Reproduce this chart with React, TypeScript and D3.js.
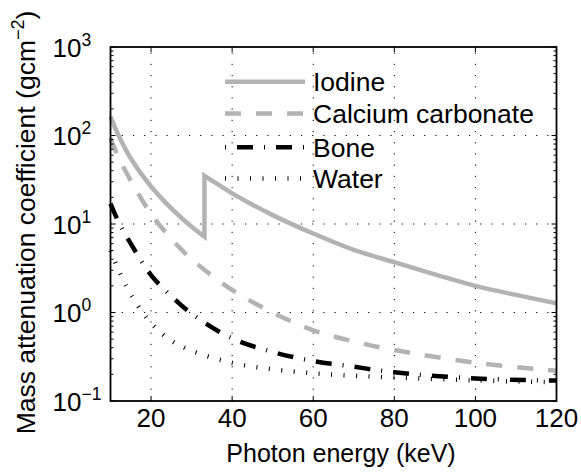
import React from "react";
import * as d3 from "d3";

// ---- data ----
const iodineEnergyLow = [10, 12, 15, 20, 25, 30, 33.17];
const iodineLow = [163, 100, 55, 26.5, 15, 9.3, 7.2];
const iodineEnergyHigh = [33.17, 35, 40, 50, 60, 70, 80, 90, 100, 110, 120];
const iodineHigh = [35, 31, 22.2, 12.6, 7.8, 5.1, 3.7, 2.7, 2.0, 1.58, 1.27];

const energies = [10, 12, 15, 20, 25, 30, 40, 50, 60, 70, 80, 100, 120];
const calciumCarbonate = [93, 56, 31, 13, 6.8, 4.0, 1.8, 1.0, 0.63, 0.47, 0.377, 0.27, 0.22];
const bone = [17, 10.5, 6.0, 2.65, 1.53, 0.97, 0.51, 0.358, 0.283, 0.244, 0.211, 0.18, 0.17];
const water = [5.0, 3.0, 1.6, 0.76, 0.48, 0.37, 0.27, 0.228, 0.206, 0.193, 0.184, 0.171, 0.163];

const xTicks = [20, 40, 60, 80, 100, 120];
const yTickExps = [-1, 0, 1, 2, 3];
const legendLabels = ["Iodine", "Calcium carbonate", "Bone", "Water"];
const xLabel = "Photon energy (keV)";
const yLabel = "Mass attenuation coefficient (gcm";

const W = 581;
const H = 472;
const M = { left: 110.5, right: 556.5, top: 47, bottom: 401 };
const FONT = "'Liberation Sans', Arial, Helvetica, sans-serif";
const GRAY = "rgb(179,179,179)";

export default function App() {
  const x = d3.scaleLinear().domain([10, 120]).range([M.left, M.right]);
  const y = d3.scaleLog().domain([0.1, 1000]).range([M.bottom, M.top]);

  const line = d3
    .line<[number, number]>()
    .x((d) => x(d[0]))
    .y((d) => y(d[1]))
    .curve(d3.curveCatmullRom.alpha(0.5));

  const zip = (xs: number[], ys: number[]) => xs.map((v, i) => [v, ys[i]] as [number, number]);

  const iodinePath =
    (line(zip(iodineEnergyLow, iodineLow)) || "") +
    (line(zip(iodineEnergyHigh, iodineHigh)) || "").replace(/^M/, "L");

  const styles = [
    { stroke: GRAY, dash: "none", width: 4.5 },
    { stroke: GRAY, dash: "16,15", width: 4.5 },
    { stroke: "black", dash: "16,11,1,11", width: 4.5 },
    { stroke: "black", dash: "1,11.5", width: 4.5 },
  ];
  const paths = [
    iodinePath,
    line(zip(energies, calciumCarbonate)) || "",
    line(zip(energies, bone)) || "",
    line(zip(energies, water)) || "",
  ];

  const minorTicks: number[] = [];
  for (let k = -1; k <= 2; k++) {
    for (let m = 2; m <= 9; m++) minorTicks.push(m * Math.pow(10, k));
  }

  const legendY = [81.7, 113.5, 147.3, 178.5];
  const legendDashOffset = [0, 0, 27, 0];

  return (
    <svg
      width={W}
      height={H}
      style={{ position: "absolute", left: 0, top: 0, background: "white" }}
      fontFamily={FONT}
    >
      <rect x={0} y={0} width={W} height={H} fill="white" />
      {/* grid */}
      <g stroke="black" strokeWidth={1} strokeDasharray="1.2,10">
        {xTicks
          .filter((t) => t < 120)
          .map((t) => (
            <line key={"gx" + t} x1={x(t)} x2={x(t)} y1={M.bottom} y2={M.top} />
          ))}
        {yTickExps
          .filter((e) => e > -1 && e < 3)
          .map((e) => (
            <line key={"gy" + e} x1={M.left} x2={M.right} y1={y(Math.pow(10, e))} y2={y(Math.pow(10, e))} />
          ))}
      </g>
      {/* curves */}
      {paths.map((p, i) => (
        <path
          key={"c" + i}
          d={p}
          fill="none"
          stroke={styles[i].stroke}
          strokeWidth={styles[i].width}
          strokeDasharray={styles[i].dash}
          strokeLinecap="butt"
          strokeLinejoin="miter"
        />
      ))}
      {/* ticks */}
      <g stroke="black" strokeWidth={1}>
        {xTicks.map((t) => (
          <g key={"xt" + t}>
            <line x1={x(t)} x2={x(t)} y1={M.bottom} y2={M.bottom - 5} />
            <line x1={x(t)} x2={x(t)} y1={M.top} y2={M.top + 5} />
          </g>
        ))}
        {yTickExps.map((e) => (
          <g key={"yt" + e}>
            <line x1={M.left} x2={M.left + 5} y1={y(Math.pow(10, e))} y2={y(Math.pow(10, e))} />
            <line x1={M.right} x2={M.right - 5} y1={y(Math.pow(10, e))} y2={y(Math.pow(10, e))} />
          </g>
        ))}
        {minorTicks.map((v, i) => (
          <g key={"ym" + i}>
            <line x1={M.left} x2={M.left + 3} y1={y(v)} y2={y(v)} />
            <line x1={M.right} x2={M.right - 3} y1={y(v)} y2={y(v)} />
          </g>
        ))}
      </g>
      {/* box */}
      <rect
        x={M.left}
        y={M.top}
        width={M.right - M.left}
        height={M.bottom - M.top}
        fill="none"
        stroke="black"
        strokeWidth={1.8}
      />
      {/* x tick labels */}
      {xTicks.map((t) => (
        <text key={"xl" + t} x={x(t)} y={427} fontSize={26} textAnchor="middle" fill="black">
          {t}
        </text>
      ))}
      {/* y tick labels */}
      {yTickExps.map((e) => (
        <text key={"yl" + e} x={52.5} y={y(Math.pow(10, e)) + 9.5} fontSize={26} fill="black">
          10
          <tspan fontSize={17.5} dy={-11}>
            {e < 0 ? "\u2212" + Math.abs(e) : String(e)}
          </tspan>
        </text>
      ))}
      {/* axis labels */}
      <text x={341} y={462} fontSize={25} textAnchor="middle" fill="black">
        {xLabel}
      </text>
      <text
        transform={`translate(34.5, ${(M.top + M.bottom) / 2 - 1.5}) rotate(-90)`}
        fontSize={26.5}
        textAnchor="middle"
        fill="black"
      >
        {yLabel}
        <tspan fontSize={18} dy={-11}>
          {"\u22122"}
        </tspan>
        <tspan dy={11}>)</tspan>
      </text>
      {/* legend */}
      {legendLabels.map((lab, i) => (
        <g key={"lg" + i}>
          <line
            x1={225}
            x2={305}
            y1={legendY[i]}
            y2={legendY[i]}
            stroke={styles[i].stroke}
            strokeWidth={styles[i].width}
            strokeDasharray={styles[i].dash}
            strokeDashoffset={legendDashOffset[i]}
          />
          <text x={313} y={legendY[i] + 9.5} fontSize={26.5} fill="black">
            {lab}
          </text>
        </g>
      ))}
    </svg>
  );
}
